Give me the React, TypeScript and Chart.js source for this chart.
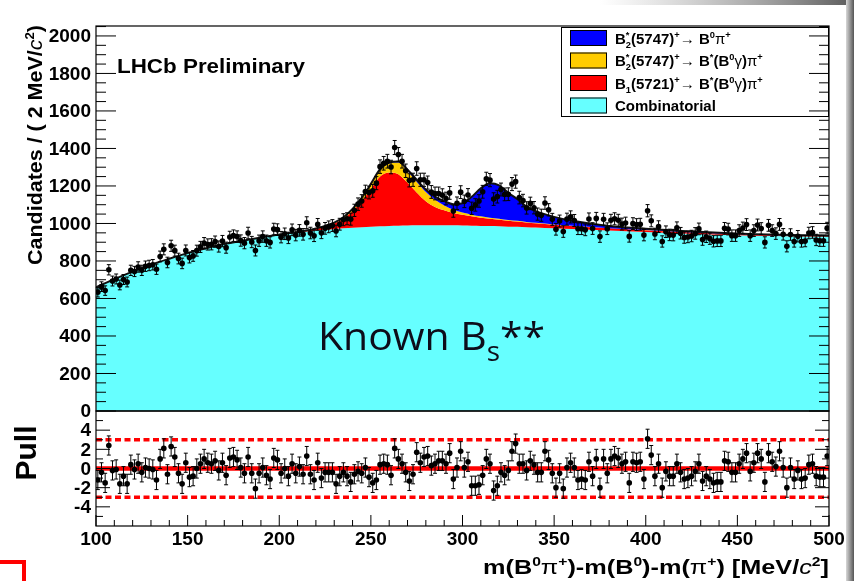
import React, { useEffect, useRef } from 'react';
import { Chart, registerables } from 'chart.js';

Chart.register(...registerables);

// Histogram binning of the mass difference, MeV/c^2
const BIN_LOW = 100;
const BIN_WIDTH = 2;

// Candidates per 2 MeV/c^2 bin (bin centres 101 ... 499)
const counts: number[] = [
  633, 663, 642, 753, 693, 704, 672, 701, 688, 750,
  744, 768, 750, 772, 776, 780, 756, 824, 862, 792,
  881, 855, 813, 787, 856, 818, 827, 855, 875, 895,
  888, 889, 903, 877, 906, 871, 928, 935, 930, 909,
  895, 949, 901, 856, 908, 930, 908, 899, 970, 967,
  927, 945, 923, 966, 938, 963,
  942, 1004, 949, 934, 995, 950, 974, 982, 989, 960,
  996, 1020, 1025, 1023, 1070, 1103, 1120, 1170, 1165, 1174,
  1215, 1303, 1321, 1332, 1301, 1405, 1368, 1332, 1281, 1230,
  1233, 1293, 1233, 1233, 1218, 1168, 1160, 1160, 1151, 1133,
  1163, 1066, 1108, 1167, 1118, 1152, 1081, 1099, 1120, 1169,
  1238, 1231, 1130, 1143, 1181, 1155, 1156, 1210, 1223, 1138,
  1122, 1083, 1107, 1084, 1050, 1044, 1109, 1073, 1022, 969,
  1013, 957, 1023, 1035, 1016, 972, 972, 966, 1024, 973,
  1027, 930, 1022, 972, 1017, 1025, 1017, 997, 1002, 931,
  999, 994, 996, 938, 1068, 1014, 944, 983, 904, 956,
  939, 938, 977, 948, 925, 928, 933, 947, 971, 914,
  929, 919, 905, 907, 907, 974, 970, 935, 935, 962,
  976, 994, 935, 962, 992, 973, 899, 990, 962, 946,
  995, 942, 878, 941, 904, 932, 904, 906, 949, 952,
  912, 908, 908, 975,
];

// Pull of each bin with respect to the fit
const pulls: number[] = [
  -1.2, -0.4, -1.5, 2.4, -0.2, -0.1, -1.6, -0.8, -1.6, 0.4,
  -0.1, 0.5, -0.4, 0.1, 0.0, -0.1, -1.2, 1.0, 2.1, -0.6,
  2.3, 1.2, -0.5, -1.6, 0.6, -0.9, -0.8, 0.0, 0.5, 1.0,
  0.6, 0.5, 0.8, -0.2, 0.6, -0.7, 1.1, 1.2, 0.9, 0.1,
  -0.5, 1.2, -0.5, -2.1, -0.5, 0.1, -0.7, -1.1, 1.1, 0.9,
  -0.5, 0.0, -0.8, 0.5, -0.5, 0.2,
  -0.6, 1.3, -0.6, -1.2, 0.6, -1.0, -0.4, -0.4, -0.4, -1.6,
  -0.8, -0.4, -0.8, -1.4, -0.6, -0.3, -0.5, 0.1, -0.9, -1.5,
  -1.2, 0.4, 0.5, 0.4, -0.7, 2.1, 1.0, 0.5, -0.4, -1.3,
  -0.6, 1.7, 0.6, 1.2, 1.3, 0.3, 0.5, 0.8, 0.8, 0.5,
  1.6, -1.1, 0.1, 1.8, 0.1, 0.7, -1.8, -1.8, -1.7, -0.7,
  1.0, 0.5, -2.3, -1.8, -0.4, -0.7, -0.2, 1.8, 2.6, 0.5,
  0.5, -0.2, 0.8, 0.4, -0.4, -0.4, 1.8, 0.9, -0.5, -2.0,
  -0.5, -2.1, 0.1, 0.6, 0.1, -1.2, -1.1, -1.2, 0.7, -0.8,
  1.0, -2.0, 1.0, -0.5, 1.0, 1.3, 1.1, 0.5, 0.7, -1.5,
  0.7, 0.6, 0.7, -1.1, 3.1, 1.4, -0.8, 0.5, -2.0, -0.3,
  -0.8, -0.8, 0.5, -0.4, -1.1, -1.0, -0.8, -0.3, 0.5, -1.3,
  -0.8, -1.1, -1.5, -1.4, -1.4, 0.8, 0.7, -0.4, -0.4, 0.5,
  1.0, 1.6, -0.3, 0.6, 1.6, 1.0, -1.4, 1.6, 0.7, 0.2,
  1.8, 0.1, -2.0, 0.1, -1.1, -0.2, -1.1, -1.0, 0.4, 0.5,
  -0.8, -0.9, -0.9, 1.3,
];

// Fit model sampled along the mass axis; each signal component is stacked on the previous one
const fitMass = [
  100, 110, 120, 130, 140, 150, 160, 170, 180, 190, 200, 210, 220, 225, 230, 235, 240, 245, 250, 255,
  260, 265, 270, 275, 280, 285, 290, 295, 300, 305, 310, 315, 320, 325, 330, 335, 340, 350, 360, 380,
  400, 420, 440, 460, 480, 500,
];
const combinatorial = [
  660, 703, 743, 780, 812, 842, 868, 890, 908, 925, 940, 952, 962, 966, 970, 974, 977, 980, 983, 985,
  987, 988, 989, 990, 990, 990, 990, 990, 989, 988, 987, 986, 985, 983, 982, 980, 978, 974, 970, 962,
  955, 947, 940, 935, 932, 930,
];
const b1ToBstarPi = [
  0, 0, 0, 0, 0, 0, 0, 0, 0, 0, 1, 3, 10, 18, 30, 52, 90, 140, 200, 265,
  285, 275, 228, 175, 128, 98, 80, 66, 57, 50, 44, 39, 35, 31, 28, 25, 23, 19, 16, 12,
  9, 7, 6, 5, 4, 3,
];
const b2ToBstarPi = [
  0, 0, 0, 0, 0, 0, 0, 0, 0, 0, 0, 0, 1, 2, 4, 6, 9, 15, 25, 35,
  48, 62, 62, 58, 50, 38, 26, 17, 12, 9, 7, 6, 5, 4, 4, 3, 3, 2, 2, 1,
  1, 1, 0, 0, 0, 0,
];
const b2ToB0Pi = [
  0, 0, 0, 0, 0, 0, 0, 0, 0, 0, 0, 0, 0, 1, 1, 1, 2, 2, 3, 4,
  5, 6, 8, 10, 13, 17, 23, 30, 50, 95, 150, 183, 178, 145, 115, 82, 62, 40, 26, 11,
  7, 5, 4, 3, 2, 2,
];

const PULL_LIMITS = [-3, 3];

const X_MIN = 100;
const X_MAX = 500;
const Y_MAX = 2053;
const PULL_MIN = -6;
const PULL_MAX = 6;

const CYAN = '#66ffff';
const RED = '#ff0000';
const YELLOW = '#ffcc00';
const BLUE = '#0000ff';

const FONT = '"Liberation Sans", Arial, sans-serif';

type Run = { t: string; s?: number; dy?: number; w?: string; it?: boolean; keep?: boolean };

const SUP = { s: 0.62, dy: -0.4 };
const SUB = { s: 0.62, dy: 0.28 };

const legendEntries: { color: string; runs: Run[] }[] = [
  {
    color: BLUE,
    runs: [
      { t: 'B' }, { t: '*', ...SUP, keep: true }, { t: '2', ...SUB }, { t: '(5747)' }, { t: '+', ...SUP },
      { t: '\u2192 ', w: 'normal' }, { t: 'B' }, { t: '0', ...SUP }, { t: '\u03c0', w: 'normal' }, { t: '+', ...SUP },
    ],
  },
  {
    color: YELLOW,
    runs: [
      { t: 'B' }, { t: '*', ...SUP, keep: true }, { t: '2', ...SUB }, { t: '(5747)' }, { t: '+', ...SUP },
      { t: '\u2192 ', w: 'normal' }, { t: 'B' }, { t: '*', ...SUP }, { t: '(B' }, { t: '0', ...SUP },
      { t: '\u03b3', w: 'normal' }, { t: ')' }, { t: '\u03c0', w: 'normal' }, { t: '+', ...SUP },
    ],
  },
  {
    color: RED,
    runs: [
      { t: 'B' }, { t: '1', ...SUB }, { t: '(5721)' }, { t: '+', ...SUP },
      { t: '\u2192 ', w: 'normal' }, { t: 'B' }, { t: '*', ...SUP }, { t: '(B' }, { t: '0', ...SUP },
      { t: '\u03b3', w: 'normal' }, { t: ')' }, { t: '\u03c0', w: 'normal' }, { t: '+', ...SUP },
    ],
  },
  { color: CYAN, runs: [{ t: 'Combinatorial' }] },
];

const xTitle: Run[] = [
  { t: 'm(B' }, { t: '0', ...SUP }, { t: '\u03c0', w: 'normal' }, { t: '+', ...SUP }, { t: ')-m(B' },
  { t: '0', ...SUP }, { t: ')-m(' }, { t: '\u03c0', w: 'normal' }, { t: '+', ...SUP }, { t: ') [MeV/' },
  { t: 'c', w: 'normal', it: true }, { t: '2', ...SUP }, { t: ']' },
];

const yTitle: Run[] = [
  { t: 'Candidates / ( 2 MeV/' }, { t: 'c', w: 'normal', it: true }, { t: '2', ...SUP }, { t: ')' },
];

const experimentLabel: Run[] = [{ t: 'LHCb Preliminary' }];

const knownLabel: Run[] = [{ t: 'Known B', w: 'normal' }, { t: 's', w: 'normal', s: 0.68, dy: 0.28 }, { t: '**', w: 'normal' }];

function binCenter(i: number) {
  return BIN_LOW + BIN_WIDTH * (i + 0.5);
}

function runFont(r: Run, base: number, family: string) {
  const size = base * (r.s ?? 1);
  return `${r.it ? 'italic ' : ''}${r.w ?? 'bold'} ${size}px ${family}`;
}

// Draws a line of mixed-style text; when a width is given the line is stretched horizontally to it
function drawRuns(
  ctx: CanvasRenderingContext2D, runs: Run[], x: number, y: number,
  base: number, family: string, align: 'left' | 'right', width?: number,
) {
  let total = 0;
  for (const r of runs) {
    ctx.font = runFont(r, base, family);
    if (!r.keep) total += ctx.measureText(r.t).width;
  }
  const k = width ? width / total : 1;
  ctx.save();
  ctx.translate(x, y);
  ctx.scale(k, 1);
  let cx = align === 'right' ? -total : 0;
  ctx.textAlign = 'left';
  for (const r of runs) {
    ctx.font = runFont(r, base, family);
    ctx.fillText(r.t, cx, (r.dy ?? 0) * base);
    if (!r.keep) cx += ctx.measureText(r.t).width;
  }
  ctx.restore();
}

const rootStyle = {
  id: 'rootStyle',
  beforeDraw(chart: any) {
    const ctx = chart.ctx as CanvasRenderingContext2D;
    ctx.save();
    ctx.fillStyle = '#ffffff';
    ctx.fillRect(0, 0, chart.width, chart.height);
    ctx.restore();
  },
  afterDatasetsDraw(chart: any) {
    const ctx = chart.ctx as CanvasRenderingContext2D;
    const xs = chart.scales.x;
    const ys = chart.scales.y;
    const ps = chart.scales.pull;
    ctx.save();
    ctx.strokeStyle = '#000';
    ctx.lineWidth = 1;
    const bar = (px: number, y1: number, y2: number) => {
      ctx.beginPath();
      ctx.moveTo(px, y1);
      ctx.lineTo(px, y2);
      ctx.moveTo(px - 2, y1);
      ctx.lineTo(px + 2, y1);
      ctx.moveTo(px - 2, y2);
      ctx.lineTo(px + 2, y2);
      ctx.stroke();
    };
    counts.forEach((n, i) => {
      const px = xs.getPixelForValue(binCenter(i));
      const e = Math.sqrt(n);
      bar(px, ys.getPixelForValue(n - e), ys.getPixelForValue(n + e));
    });
    pulls.forEach((p, i) => {
      const px = xs.getPixelForValue(binCenter(i));
      bar(px, ps.getPixelForValue(p - 1), ps.getPixelForValue(p + 1));
    });
    ctx.restore();
  },
  afterDraw(chart: any) {
    const ctx = chart.ctx as CanvasRenderingContext2D;
    const xs = chart.scales.x;
    const ys = chart.scales.y;
    const ps = chart.scales.pull;
    const L = chart.chartArea.left;
    const R = chart.chartArea.right;
    const mainTop = ys.top;
    const split = ys.bottom;
    const pullBottom = ps.bottom;

    ctx.save();
    ctx.fillStyle = '#000';
    ctx.strokeStyle = '#000';

    // legend
    const lgX = 561, lgY = 27, lgW = R - 561, lgH = 90;
    ctx.fillStyle = '#fff';
    ctx.fillRect(lgX, lgY, lgW, lgH);
    ctx.lineWidth = 1;
    ctx.strokeRect(lgX + 0.5, lgY + 0.5, lgW - 1, lgH - 1);
    legendEntries.forEach((e, i) => {
      const cy = 38 + i * 22.5;
      ctx.fillStyle = e.color;
      ctx.fillRect(570, cy - 8, 37, 16);
      ctx.strokeStyle = '#000';
      ctx.strokeRect(570.5, cy - 7.5, 36, 15);
      ctx.fillStyle = '#000';
      ctx.textBaseline = 'alphabetic';
      drawRuns(ctx, e.runs, 615, cy + 5.5, 15, FONT, 'left');
    });

    // frames
    ctx.lineWidth = 1.2;
    ctx.strokeStyle = '#000';
    ctx.strokeRect(L, mainTop, R - L, split - mainTop);
    ctx.strokeRect(L, split, R - L, pullBottom - split);

    const tick = (x1: number, y1: number, x2: number, y2: number) => {
      ctx.beginPath();
      ctx.moveTo(x1, y1);
      ctx.lineTo(x2, y2);
      ctx.stroke();
    };
    ctx.lineWidth = 1;

    // main panel y ticks, both sides
    ctx.font = `bold 19px ${FONT}`;
    ctx.textAlign = 'right';
    ctx.textBaseline = 'middle';
    for (let v = 0; v <= 2050; v += 50) {
      const py = ys.getPixelForValue(v);
      const len = v % 200 === 0 ? 20 : 10;
      tick(L, py, L + len, py);
      tick(R, py, R - len, py);
      if (v % 200 === 0) ctx.fillText(String(v), L - 5, py + 1);
    }

    // pull panel y ticks
    for (let v = PULL_MIN + 1; v < PULL_MAX; v += 1) {
      const py = ps.getPixelForValue(v);
      const major = v % 2 === 0;
      const len = major ? 14 : 7;
      tick(L, py, L + len, py);
      tick(R, py, R - len, py);
      if (major && Math.abs(v) <= 4) ctx.fillText(String(v), L - 5, py + 1);
    }

    // x ticks on the bottom axis
    ctx.textAlign = 'center';
    for (let v = X_MIN; v <= X_MAX; v += 10) {
      const px = xs.getPixelForValue(v);
      const major = v % 50 === 0;
      tick(px, pullBottom, px, pullBottom - (major ? 11 : 6));
      if (major) ctx.fillText(String(v), px, pullBottom + 14);
    }

    // axis titles
    ctx.textBaseline = 'alphabetic';
    drawRuns(ctx, xTitle, R, 574, 21, FONT, 'right', 346);

    ctx.save();
    ctx.translate(42, 25);
    ctx.rotate(-Math.PI / 2);
    drawRuns(ctx, yTitle, 0, 0, 20, FONT, 'right', 240);
    ctx.restore();

    ctx.save();
    ctx.translate(28, 453);
    ctx.rotate(-Math.PI / 2);
    ctx.font = `bold 30px ${FONT}`;
    ctx.textAlign = 'center';
    ctx.textBaseline = 'middle';
    ctx.fillText('Pull', 0, 0);
    ctx.restore();

    // labels inside the plot
    ctx.textBaseline = 'alphabetic';
    drawRuns(ctx, experimentLabel, 117, 73, 20, FONT, 'left', 188);

    ctx.fillStyle = '#0d0d1a';
    drawRuns(ctx, knownLabel, 318, 350, 39, '"Open Sans", sans-serif', 'left', 227);

    // slide border: shaded top and right edges, red corner mark
    const topShade = ctx.createLinearGradient(600, 0, 854, 0);
    topShade.addColorStop(0, 'rgba(150,150,150,0)');
    topShade.addColorStop(1, 'rgba(90,90,90,1)');
    ctx.fillStyle = topShade;
    ctx.fillRect(600, 0, 254, 5);
    const rightShade = ctx.createLinearGradient(846, 0, 854, 0);
    rightShade.addColorStop(0, '#d8d8d8');
    rightShade.addColorStop(1, '#555555');
    ctx.fillStyle = rightShade;
    ctx.fillRect(846, 0, 8, 581);

    ctx.fillStyle = RED;
    ctx.fillRect(0, 560, 26, 4);
    ctx.fillRect(22, 560, 4, 21);
    ctx.restore();
  },
};

export default function App() {
  const ref = useRef<HTMLCanvasElement>(null);

  useEffect(() => {
    const canvas = ref.current;
    if (!canvas) return;
    const withRed = combinatorial.map((v, i) => v + b1ToBstarPi[i]);
    const withYellow = withRed.map((v, i) => v + b2ToBstarPi[i]);
    const total = withYellow.map((v, i) => v + b2ToB0Pi[i]);
    const curve = (vals: number[]) => fitMass.map((x, i) => ({ x, y: vals[i] }));
    const area = (vals: number[], color: string, fill: any, order: number) => ({
      data: curve(vals),
      yAxisID: 'y',
      fill,
      backgroundColor: color,
      borderColor: color,
      borderWidth: 0,
      pointRadius: 0,
      cubicInterpolationMode: 'monotone' as const,
      order,
    });
    const flat = (y: number, width: number, dash: number[]) => ({
      data: [{ x: X_MIN, y }, { x: X_MAX, y }],
      yAxisID: 'pull',
      borderColor: RED,
      borderWidth: width,
      borderDash: dash,
      pointRadius: 0,
      fill: false,
      order: 2,
    });
    const hidden = {
      ticks: { display: false },
      grid: { display: false },
      border: { display: false },
    };

    const chart = new Chart(canvas, {
      type: 'line',
      data: {
        datasets: [
          area(combinatorial, CYAN, 'origin', 10),
          area(withRed, RED, '-1', 9),
          area(withYellow, YELLOW, '-1', 8),
          area(total, BLUE, '-1', 7),
          {
            data: curve(total),
            yAxisID: 'y',
            fill: false,
            borderColor: '#111111',
            borderWidth: 2,
            pointRadius: 0,
            cubicInterpolationMode: 'monotone',
            order: 6,
          },
          {
            data: counts.map((n, i) => ({ x: binCenter(i), y: n })),
            yAxisID: 'y',
            showLine: false,
            pointRadius: 2.8,
            pointBackgroundColor: '#000',
            pointBorderWidth: 0,
            order: 1,
          },
          flat(0, 4.5, []),
          ...PULL_LIMITS.map((l) => flat(l, 3.5, [6, 3.5])),
          {
            data: pulls.map((p, i) => ({ x: binCenter(i), y: p })),
            yAxisID: 'pull',
            showLine: false,
            pointRadius: 2.8,
            pointBackgroundColor: '#000',
            pointBorderWidth: 0,
            order: 0,
          },
        ] as any,
      },
      options: {
        responsive: false,
        animation: false,
        events: [],
        layout: { padding: { left: 96, right: 25, top: 26, bottom: 55 } },
        plugins: { legend: { display: false }, tooltip: { enabled: false } },
        scales: {
          x: {
            type: 'linear', min: X_MIN, max: X_MAX, ...hidden,
            afterFit: (s: any) => { s.height = 0; },
          },
          // the later of two stacked left axes is placed on top
          pull: {
            type: 'linear', min: PULL_MIN, max: PULL_MAX, position: 'left', stack: 'panels', stackWeight: 115, ...hidden,
            afterFit: (s: any) => { s.width = 0; },
          },
          y: {
            type: 'linear', min: 0, max: Y_MAX, position: 'left', stack: 'panels', stackWeight: 385, ...hidden,
            afterFit: (s: any) => { s.width = 0; },
          },
        } as any,
      },
      plugins: [rootStyle],
    });
    return () => chart.destroy();
  }, []);

  return (
    <div style={{ position: 'fixed', left: 0, top: 0, width: 854, height: 581, background: '#fff' }}>
      <canvas ref={ref} width={854} height={581} style={{ display: 'block' }} />
    </div>
  );
}
